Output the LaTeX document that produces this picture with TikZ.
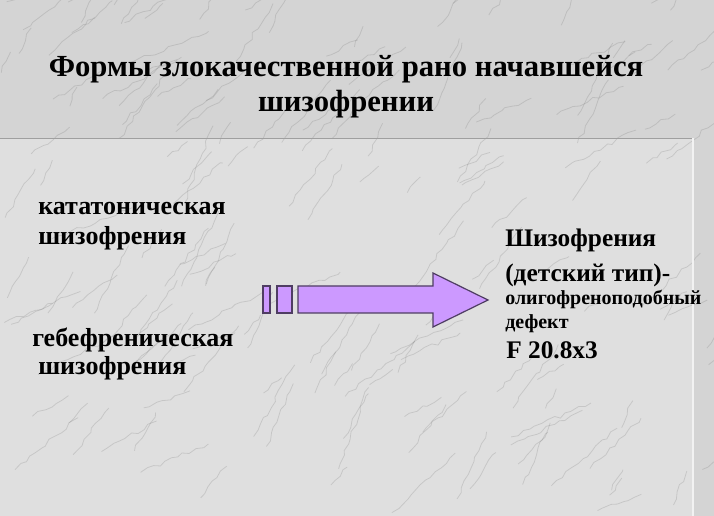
\documentclass[tikz,border=0pt]{standalone}
\usepackage{fontspec}
\setmainfont{Liberation Serif}
\definecolor{marble}{HTML}{D4D4D4}
\definecolor{slab}{HTML}{DFDFDF}
\definecolor{lilac}{HTML}{CC99FF}
\definecolor{lilacedge}{HTML}{4F3D63}
\usetikzlibrary{positioning, decorations.pathmorphing}
\tikzstyle{title} = [anchor=base, inner sep=0, font=\bfseries\fontsize{23}{27}\selectfont]
\tikzstyle{item} = [anchor=base west, inner sep=0, font=\bfseries\fontsize{19.5}{23}\selectfont]
\tikzstyle{big} = [anchor=base west, inner sep=0, font=\bfseries\fontsize{19}{23}\selectfont]
\tikzstyle{small} = [anchor=base west, inner sep=0, font=\bfseries\fontsize{15}{18}\selectfont]
\tikzstyle{bar} = [fill=lilac, draw=lilacedge, line width=0.9pt]
\tikzstyle{vein} = [gray!80!black, opacity=0.2, line width=0.6pt, decorate, decoration={random steps, segment length=5pt, amplitude=1.5pt}]

\begin{document}
\begin{tikzpicture}[x=0.75pt,y=-0.75pt]
\useasboundingbox (0,0) rectangle (714,516);
\clip (0,0) rectangle (714,516);
% marble background
\fill[marble] (0,0) rectangle (714,516);
\fill[slab] (0,138) rectangle (693,516);
\pgfmathsetseed{11}
\foreach \i in {1,...,170}{
  \pgfmathsetmacro{\xa}{rnd*714}
  \pgfmathsetmacro{\ya}{rnd*516}
  \pgfmathsetmacro{\len}{20+rnd*70}
  \pgfmathsetmacro{\ang}{20+rnd*50}
  \draw[vein] (\xa,\ya) -- ++(-\ang:\len);
}
\draw[gray!75, line width=0.6pt] (0,138) -- (693,138);
\draw[white!90!gray, line width=0.8pt] (693,138) -- (693,516);

% title
\node[title] (t1) at (346,77) {Формы злокачественной рано начавшейся};
\node[title] (t2) at (346,112) {шизофрении};

% left forms
\node[item] (cat1) at (38,215) {кататоническая};
\node[item] (cat2) at (38,245) {шизофрения};
\node[item] (heb1) at (32,347) {гебефреническая};
\node[item] (heb2) at (38,375) {шизофрения};

% arrow
\draw[bar] (263,286) rectangle (270,313);
\draw[bar] (277,286) rectangle (292,313);
\draw[bar] (298,286) -- (433,286) -- (433,273) -- (488,300) -- (433,327) -- (433,313) -- (298,313) -- cycle;

% right block
\node[big] (res1) at (505,247) {Шизофрения};
\node[big] (res2) at (505,282) {(детский тип)-};
\node[small] (res3) at (505,305) {олигофреноподобный};
\node[small] (res4) at (505,329) {дефект};
\node[big] (res5) at (506,359) {F 20.8x3};
\end{tikzpicture}
\end{document}
